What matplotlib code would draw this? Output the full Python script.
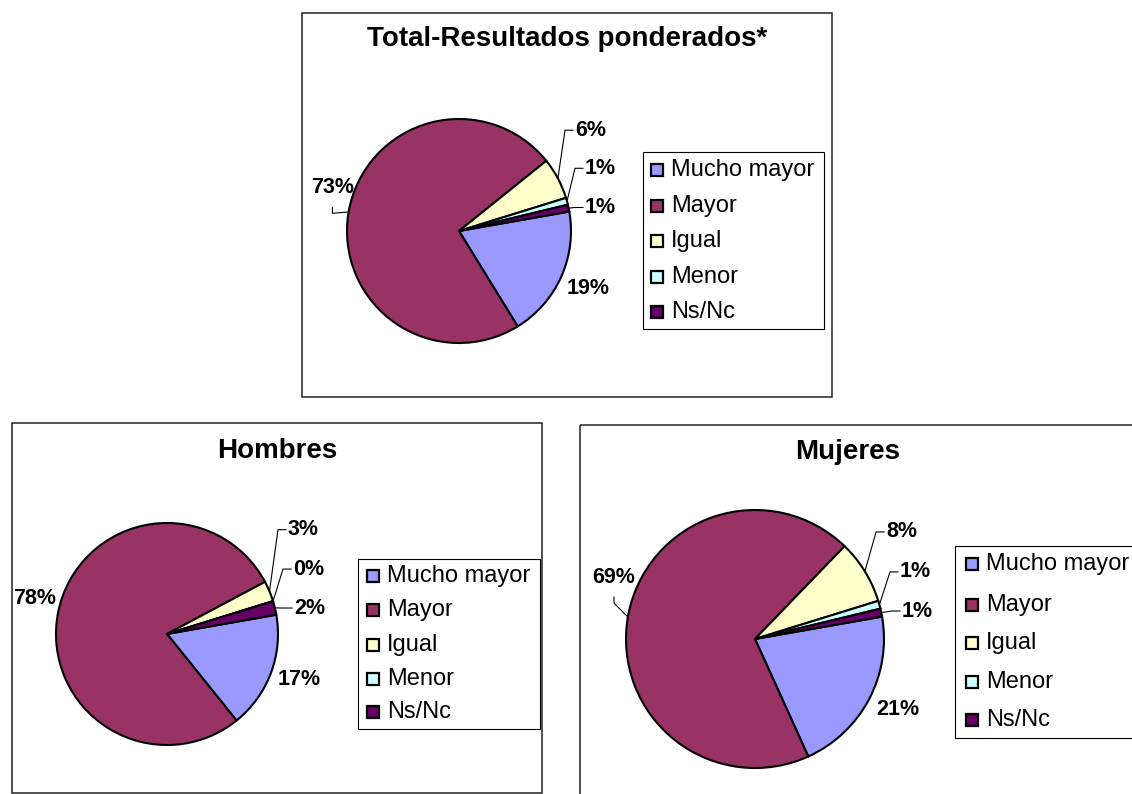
import numpy as np
import matplotlib
matplotlib.use("Agg")
import matplotlib.pyplot as plt
from matplotlib.patches import Rectangle

plt.rcParams['font.family'] = ['Liberation Sans', 'DejaVu Sans']

categories = ['Mucho mayor', 'Mayor', 'Igual', 'Menor', 'Ns/Nc']
colors = ['#9999FF', '#993366', '#FFFFCC', '#CCFFFF', '#660066']

total = [19, 73, 6, 1, 1]
hombres = [17, 78, 3, 0, 2]
mujeres = [21, 69, 8, 1, 1]

W, H = 1132, 794
fig = plt.figure(figsize=(W / 100, H / 100), dpi=100)

# background axes in pixel coords (y down) for frames, titles, legends
bg = fig.add_axes([0, 0, 1, 1])
bg.set_xlim(0, W)
bg.set_ylim(H, 0)
bg.axis('off')


def frame(x0, y0, x1, y1):
    bg.add_patch(Rectangle((x0, y0), x1 - x0, y1 - y0, fill=False,
                           edgecolor='#222222', lw=1.1, clip_on=False))


def legend(x0, y0, x1, y1, sq_x, txt_x, rows):
    bg.add_patch(Rectangle((x0, y0), x1 - x0, y1 - y0, facecolor='white',
                           edgecolor='black', lw=0.8, clip_on=False))
    for name, col, ry in zip(categories, colors, rows):
        bg.add_patch(Rectangle((sq_x, ry - 6), 12, 12, facecolor=col,
                               edgecolor='black', lw=1.6))
        bg.text(txt_x, ry, name, fontsize=17, va='center', ha='left')


def pie(cx, cy, r, values, labels_pos, under):
    # labels_pos: (x, y, ha) in radius units around centre
    box = 1.5
    ax = fig.add_axes([(cx - box * r) / W, (H - cy - box * r) / H,
                       2 * box * r / W, 2 * box * r / H])
    ax.pie(values, colors=colors, startangle=10, counterclock=False,
           radius=1, wedgeprops=dict(edgecolor='black', linewidth=1.5))
    ax.set_xlim(-box, box)
    ax.set_ylim(-box, box)
    ax.set_aspect('equal')
    ax.axis('off')

    cum = np.cumsum([0] + list(values))
    px = 1.0 / r
    for i, v in enumerate(values):
        t1 = 10 - 3.6 * cum[i]
        t2 = t1 - 3.6 * v
        mid = np.radians((t1 + t2) / 2)
        ex, ey = np.cos(mid), np.sin(mid)
        lx, ly, ha = labels_pos[i]
        ax.text(lx, ly, f'{v}%', fontsize=15.5, fontweight='bold',
                ha=ha, va='center', clip_on=False)
        if ha == 'left':
            ax.plot([ex, lx - 10 * px, lx - 2 * px], [ey, ly, ly],
                    color='black', lw=0.8, clip_on=False)
        elif i == under:
            ax.plot([ex, lx, lx], [ey, ly - 26 * px, ly - 20 * px],
                    color='black', lw=0.8, clip_on=False)


# top chart
frame(302, 13, 832, 397)
bg.text(567, 39, 'Total-Resultados ponderados*', fontsize=20,
        fontweight='bold', ha='center', va='center')
pie(459, 231, 112, total,
    [(1.15, -0.51, 'center'), (-1.13, 0.39, 'center'),
     (1.036, 0.90, 'left'), (1.125, 0.56, 'left'), (1.125, 0.21, 'left')],
    under=1)
legend(643, 152, 824, 329, 651, 671, [170, 206, 241, 277, 312])

# hombres
frame(12, 423, 542, 793)
bg.text(277, 451, 'Hombres', fontsize=20, fontweight='bold',
        ha='center', va='center')
pie(167, 634, 111, hombres,
    [(1.19, -0.41, 'center'), (-1.19, 0.32, 'center'),
     (1.09, 0.94, 'left'), (1.135, 0.585, 'left'), (1.144, 0.234, 'left')],
    under=None)
legend(358, 559, 540, 729, 367, 387, [576, 610, 645, 679, 712])

# mujeres
frame(580, 425, 1150, 810)
bg.text(848, 452, 'Mujeres', fontsize=20, fontweight='bold',
        ha='center', va='center')
pie(755, 639, 129, mujeres,
    [(1.11, -0.55, 'center'), (-1.093, 0.48, 'center'),
     (1.016, 0.83, 'left'), (1.124, 0.52, 'left'), (1.14, 0.217, 'left')],
    under=1)
legend(955, 546, 1150, 738, 966, 986, [564, 605, 643, 682, 720])

fig.savefig('out.png', dpi=100)
